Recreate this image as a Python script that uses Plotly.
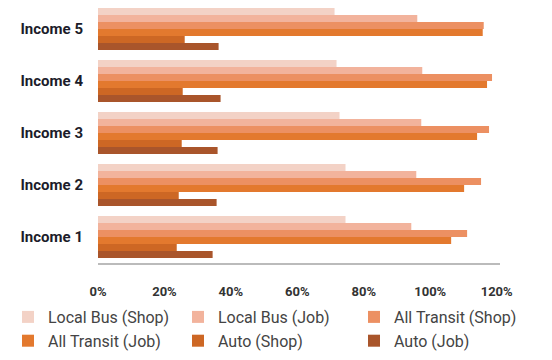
import plotly.graph_objects as go

categories = ["Income 5", "Income 4", "Income 3", "Income 2", "Income 1"]
series_names = ["Local Bus (Shop)", "Local Bus (Job)", "All Transit (Shop)",
                "All Transit (Job)", "Auto (Shop)", "Auto (Job)"]

local_bus_shop = [71.2, 71.8, 72.7, 74.5, 74.5]
local_bus_job = [96.1, 97.6, 97.3, 95.8, 94.3]
all_transit_shop = [116.1, 118.6, 117.7, 115.3, 111.1]
all_transit_job = [115.8, 117.1, 114.1, 110.2, 106.3]
auto_shop = [26.1, 25.5, 25.2, 24.3, 23.7]
auto_job = [36.3, 36.9, 36.0, 35.7, 34.5]

tick_values = [0, 20, 40, 60, 80, 100, 120]
tick_labels = ["0%", "20%", "40%", "60%", "80%", "100%", "120%"]

colors = ["#f3d2c6", "#f2b39c", "#ec9062", "#e3792e", "#cd6724", "#a9552b"]
values = [local_bus_shop, local_bus_job, all_transit_shop,
          all_transit_job, auto_shop, auto_job]
# legend column for each series (3 columns x 2 rows)
legend_ids = ["legend", "legend2", "legend3", "legend", "legend2", "legend3"]

fig = go.Figure()
for name, vals, col, lg in zip(series_names, values, colors, legend_ids):
    fig.add_trace(go.Bar(
        y=categories, x=vals, name=name, orientation="h",
        marker=dict(color=col, line=dict(width=0)), legend=lg,
    ))

plot_left, plot_right, plot_top, plot_bottom = 90, 492, 0, 255
pw = plot_right - plot_left
ph = plot_bottom - plot_top

legend_y = -(292 - plot_bottom) / ph


def legend_at(px):
    return dict(
        orientation="v", x=(px - plot_left) / pw, xanchor="left",
        y=legend_y, yanchor="top", font=dict(size=16, color="#444"),
        itemwidth=30, bgcolor="rgba(0,0,0,0)", borderwidth=0,
    )


fig.update_layout(
    width=552, height=360,
    margin=dict(l=plot_left, r=552 - plot_right, t=plot_top, b=360 - plot_bottom,
                autoexpand=False),
    paper_bgcolor="white", plot_bgcolor="white",
    barmode="group", bargap=0.19, bargroupgap=0.0,
    font=dict(family="Roboto, sans-serif", color="#333"),
    showlegend=True,
    legend=legend_at(0),
    legend2=legend_at(170),
    legend3=legend_at(346),
    xaxis=dict(
        range=[0, 121], tickvals=tick_values, ticktext=tick_labels,
        showgrid=False, zeroline=False, showline=True, linecolor="#bbbbbb",
        linewidth=2, ticks="", ticklabelstandoff=15, automargin=False,
        tickfont=dict(size=13, color="#333", family="Roboto, sans-serif", weight="bold"),
    ),
    yaxis=dict(
        categoryorder="array", categoryarray=categories,
        range=[4.5, -0.404],
        showgrid=False, zeroline=False, showline=False, ticks="",
        ticklabelstandoff=14, automargin=False,
        tickfont=dict(size=15, color="#1c1c2a", family="Roboto, sans-serif", weight="bold"),
    ),
)

fig.write_html("out.html")
